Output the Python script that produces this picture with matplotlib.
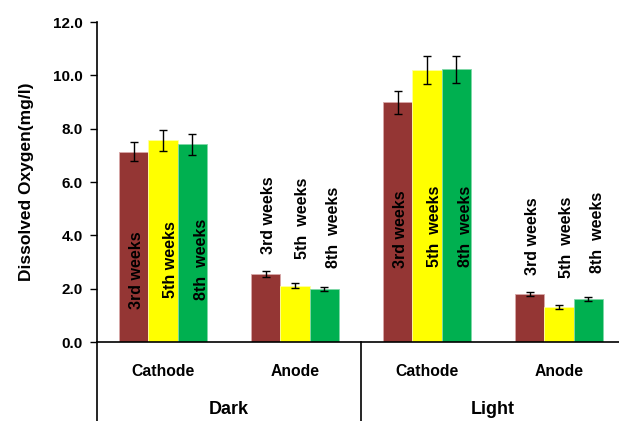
import matplotlib

matplotlib.use("Agg")
import matplotlib.pyplot as plt
import numpy as np

# Dissolved oxygen (mg/l) per group: Dark-Cathode, Dark-Anode, Light-Cathode, Light-Anode
groups = ["Cathode", "Anode", "Cathode", "Anode"]
conditions = ["Dark", "Light"]
weeks = ["3rd weeks", "5th weeks", "8th weeks"]

week3 = [7.14, 2.54, 8.99, 1.79]
week5 = [7.57, 2.11, 10.20, 1.31]
week8 = [7.42, 1.98, 10.22, 1.60]

err3 = [0.37, 0.12, 0.44, 0.08]
err5 = [0.39, 0.09, 0.52, 0.06]
err8 = [0.39, 0.08, 0.50, 0.07]

# text drawn inside / above the bars
labels3 = ["3rd weeks"] * 4
labels5 = ["5th weeks", "5th  weeks", "5th  weeks", "5th  weeks"]
labels8 = ["8th  weeks"] * 4

# layout only: vertical centre of the rotated labels (data units) and x nudges
label_y = [[2.7, 3.09, 3.11], [4.76, 4.65, 4.31], [4.24, 4.32, 4.32], [3.96, 3.94, 4.1]]
label_dx = [0.02, 0.06, 0.07]

colors = ["#943634", "#FFFF00", "#00B050"]
edges = ["#d8a8a8", "#ffffa0", "#80d8a8"]
FONT = "Liberation Sans"

fig = plt.figure(figsize=(6.19, 4.21), dpi=100)
ax = fig.add_axes([97 / 619, 79 / 421, 522 / 619, 320 / 421])

x = np.arange(len(groups))
w = 0.222
series = [(week3, err3, labels3), (week5, err5, labels5), (week8, err8, labels8)]
for i, (vals, errs, labs) in enumerate(series):
    xs = x + (i - 1) * w
    ax.bar(xs, vals, width=w, color=colors[i], edgecolor=edges[i], linewidth=0.6,
           yerr=errs, capsize=2.8, error_kw={"elinewidth": 1, "capthick": 1, "ecolor": "black"},
           zorder=2)
    for g in range(len(groups)):
        ax.text(xs[g] + label_dx[i], label_y[g][i], labs[g], rotation=90,
                ha="center", va="center", fontsize=11.5, fontweight="bold",
                family=FONT, zorder=3)

ax.set_xlim(-0.5, 3.455)
ax.set_ylim(0, 12)
ticks = np.arange(0, 12.1, 2)
ax.set_yticks(ticks)
ax.set_yticklabels([f"{v:.1f}" for v in ticks], fontsize=11, fontweight="bold", family=FONT)
ax.tick_params(axis="y", direction="out", length=5, width=1, pad=5)
ax.set_xticks(x)
ax.set_xticklabels(groups, fontsize=11.3, fontweight="bold", family=FONT)
ax.tick_params(axis="x", length=0, pad=16)
ax.set_ylabel("Dissolved Oxygen(mg/l)", fontsize=12.5, fontweight="bold",
              family=FONT, labelpad=14)

for s in ["top", "right"]:
    ax.spines[s].set_visible(False)
for s in ["left", "bottom"]:
    ax.spines[s].set_linewidth(1.2)

# extend axis / separator lines below the plot
trans = ax.get_xaxis_transform()
ax.plot([-0.5, -0.5], [0, -0.26], color="black", lw=1.2, transform=trans, clip_on=False)
ax.plot([1.5, 1.5], [0, -0.26], color="black", lw=1.2, transform=trans, clip_on=False)
for k, cond in enumerate(conditions):
    ax.text(0.5 + 2 * k, -0.21, cond, transform=trans, ha="center", va="center",
            fontsize=13, fontweight="bold", family=FONT)

fig.savefig("out.png", dpi=100)
